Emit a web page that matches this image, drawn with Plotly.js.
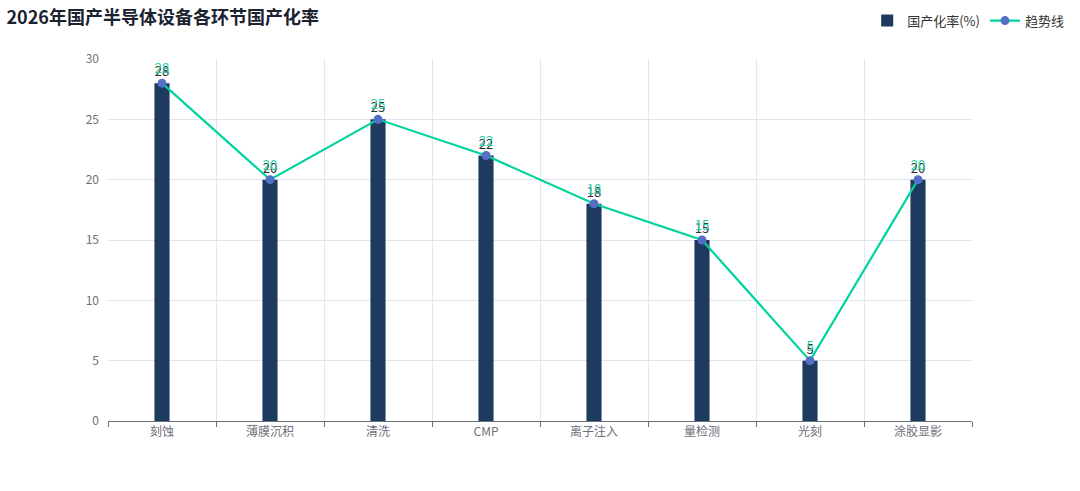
<!DOCTYPE html>
<html>
<head>
<meta charset="utf-8">
<script src="https://cdn.plot.ly/plotly-3.0.1.min.js"></script>
<style>html,body{margin:0;padding:0;background:#fff;}#chart{width:1080px;height:491px;}</style>
</head>
<body>
<div id="chart"></div>
<script>
const categories = ["刻蚀", "薄膜沉积", "清洗", "CMP", "离子注入", "量检测", "光刻", "涂胶显影"];
const localizationRate = [28, 20, 25, 22, 18, 15, 5, 20];
const trendValues = [28, 20, 25, 22, 18, 15, 5, 20];
const yTicks = [0, 5, 10, 15, 20, 25, 30];

const font = "'Noto Sans CJK SC', 'Noto Sans', sans-serif";

const traces = [
  {
    type: "bar",
    name: "国产化率(%)",
    x: categories,
    y: localizationRate,
    width: 0.14,
    marker: {color: "#1f3a5f", line: {width: 0}},
    text: localizationRate.map(String),
    textposition: "outside",
    cliponaxis: false,
    textfont: {color: "#333333", size: 13, family: font}
  },
  {
    type: "scatter",
    mode: "lines+markers+text",
    name: "趋势线",
    x: categories,
    y: trendValues,
    line: {color: "#00d49e", width: 2.2},
    marker: {color: "#5470c6", size: 9},
    text: trendValues.map(String),
    textposition: "top center",
    cliponaxis: false,
    textfont: {color: "#1fd0a5", size: 13, family: font}
  }
];

const layout = {
  width: 1080,
  height: 491,
  margin: {l: 108, r: 108, t: 59, b: 70, autoexpand: false},
  paper_bgcolor: "#ffffff",
  plot_bgcolor: "#ffffff",
  font: {family: font, color: "#6e7079", size: 12},
  title: {
    text: "<b>2026年国产半导体设备各环节国产化率</b>",
    x: 0.006, xanchor: "left", y: 0.977, yanchor: "top",
    font: {size: 18, color: "#1b2230", family: font}
  },
  showlegend: true,
  legend: {
    orientation: "h",
    xref: "container", yref: "container",
    x: 0.99, xanchor: "right", y: 0.958, yanchor: "middle",
    font: {size: 13, color: "#333333", family: font},
    traceorder: "normal",
    itemwidth: 30
  },
  bargap: 0.3,
  xaxis: {
    type: "category",
    tickson: "boundaries",
    showgrid: true,
    gridcolor: "#e0e6f1",
    showline: true,
    linecolor: "#6e7079",
    linewidth: 1,
    ticks: "outside",
    ticklen: 5,
    tickcolor: "#6e7079",
    tickfont: {size: 12, color: "#6e7079"},
    zeroline: false,
    fixedrange: true
  },
  yaxis: {
    range: [0, 30],
    tickvals: yTicks,
    showgrid: true,
    gridcolor: "#e0e6f1",
    showline: false,
    zeroline: false,
    ticks: "",
    ticklabelstandoff: 8,
    tickfont: {size: 12, color: "#6e7079"},
    fixedrange: true
  }
};

Plotly.newPlot("chart", traces, layout, {displayModeBar: false, staticPlot: true});
</script>
</body>
</html>
